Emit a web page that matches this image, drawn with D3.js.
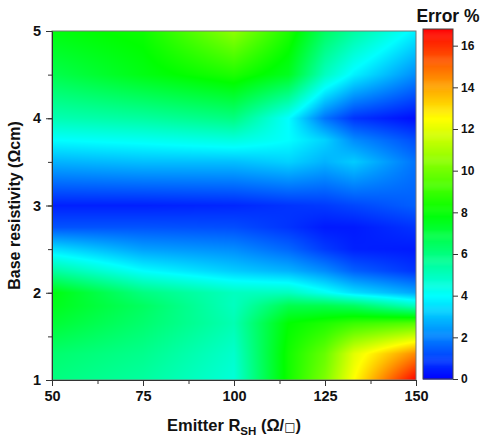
<!DOCTYPE html>
<html>
<head>
<meta charset="utf-8">
<script src="https://cdn.jsdelivr.net/npm/d3@7"></script>
<style>
  body { margin: 0; background: #fff; }
  text { font-family: "Liberation Sans", Arial, sans-serif; font-weight: bold; fill: #111; }
</style>
</head>
<body>
<div id="chart"></div>
<script>
// grid: columns = emitter sheet resistance, rows = base resistivity
var emitterRsh = [50, 75, 100, 115, 125, 133, 150];
var baseRes = [1, 1.3, 1.65, 1.85, 2, 2.25, 2.5, 2.75, 3, 3.5, 3.75, 4, 4.5, 5];
var errorPct = [
  [6.0, 5.5, 4.6, 8.3, 10.2, 12.5, 16.8],
  [6.3, 5.8, 4.8, 8.3, 9.8, 12.0, 14.5],
  [7.2, 6.3, 5.2, 8.0, 8.5, 9.0, 9.5],
  [7.6, 6.5, 5.0, 6.8, 6.8, 6.5, 5.0],
  [7.8, 6.0, 5.0, 5.0, 4.2, 3.5, 2.6],
  [5.5, 4.0, 3.2, 2.8, 2.2, 1.5, 0.8],
  [3.5, 2.5, 2.2, 1.6, 0.9, 0.5, 0.4],
  [1.3, 1.3, 1.2, 0.8, 0.4, 0.4, 0.8],
  [0.5, 0.5, 0.6, 0.8, 0.9, 1.1, 1.5],
  [2.8, 3.0, 3.0, 3.3, 2.8, 3.2, 1.8],
  [4.0, 4.2, 4.5, 4.0, 3.3, 2.2, 1.2],
  [5.2, 5.5, 6.0, 4.0, 1.8, 0.8, 0.2],
  [6.8, 7.7, 8.5, 7.5, 5.0, 3.8, 2.2],
  [7.8, 8.2, 10.5, 8.5, 6.5, 5.5, 3.8]
];
var xTicks = [50, 75, 100, 125, 150];
var yTicks = [1, 2, 3, 4, 5];
var cbTicks = [0, 2, 4, 6, 8, 10, 12, 14, 16];
var colorStops = [0, 4, 8, 12.5, 16.8];
var colorList = ['#0000ff', '#00ffff', '#00ff00', '#ffff00', '#ff0000'];

var W = 481, H = 439;
var margin = {top: 31, left: 52, right: 65, bottom: 59};
var width = W - margin.left - margin.right,
  height = H - margin.top - margin.bottom;

var svg = d3.select('#chart').append('svg')
  .attr('width', W)
  .attr('height', H);

var x = d3.scaleLinear().domain([50, 150]).range([0, width]);
var y = d3.scaleLinear().domain([1, 5]).range([height, 0]);
var color = d3.scaleLinear().domain(colorStops).range(colorList).clamp(true);

// bilinear lookup in the grid
function valueAt(xv, yv) {
  var i = Math.min(Math.max(d3.bisectRight(emitterRsh, xv) - 1, 0), emitterRsh.length - 2);
  var j = Math.min(Math.max(d3.bisectRight(baseRes, yv) - 1, 0), baseRes.length - 2);
  var tx = (xv - emitterRsh[i]) / (emitterRsh[i + 1] - emitterRsh[i]);
  var ty = (yv - baseRes[j]) / (baseRes[j + 1] - baseRes[j]);
  tx = Math.max(0, Math.min(1, tx));
  ty = Math.max(0, Math.min(1, ty));
  var a = errorPct[j][i], b = errorPct[j][i + 1],
    c = errorPct[j + 1][i], d = errorPct[j + 1][i + 1];
  return (a * (1 - tx) + b * tx) * (1 - ty) + (c * (1 - tx) + d * tx) * ty;
}

var cw = Math.round(width), ch = Math.round(height);
var canvas = document.createElement('canvas');
canvas.width = cw;
canvas.height = ch;
var ctx = canvas.getContext('2d');
var img = ctx.createImageData(cw, ch);
for (var py = 0; py < ch; py++) {
  var yv = y.invert(py + 0.5);
  for (var px = 0; px < cw; px++) {
    var c = d3.rgb(color(valueAt(x.invert(px + 0.5), yv)));
    var k = (py * cw + px) * 4;
    img.data[k] = c.r; img.data[k + 1] = c.g; img.data[k + 2] = c.b; img.data[k + 3] = 255;
  }
}
ctx.putImageData(img, 0, 0);

var g = svg.append('g').attr('transform', 'translate(' + margin.left + ',' + margin.top + ')');

g.append('image')
  .attr('width', width)
  .attr('height', height)
  .attr('preserveAspectRatio', 'none')
  .attr('href', canvas.toDataURL());

g.append('rect')
  .attr('width', width)
  .attr('height', height)
  .attr('fill', 'none')
  .attr('stroke', '#777')
  .attr('stroke-width', 1);

// minor ticks
g.append('g')
  .attr('transform', 'translate(0,' + height + ')')
  .call(d3.axisBottom(x).tickValues(d3.range(50, 151, 12.5)).tickSize(4).tickFormat(''))
  .call(function (s) { s.select('.domain').remove(); s.selectAll('line').attr('stroke', '#333'); });
g.append('g')
  .call(d3.axisLeft(y).tickValues(d3.range(1, 5.01, 0.5)).tickSize(4).tickFormat(''))
  .call(function (s) { s.select('.domain').remove(); s.selectAll('line').attr('stroke', '#333'); });

var xAxis = g.append('g')
  .attr('transform', 'translate(0,' + height + ')')
  .call(d3.axisBottom(x).tickValues(xTicks).tickSize(6).tickPadding(5).tickFormat(d3.format('d')));
var yAxis = g.append('g')
  .call(d3.axisLeft(y).tickValues(yTicks).tickSize(6).tickPadding(5).tickFormat(d3.format('d')));

[xAxis, yAxis].forEach(function (a) {
  a.select('.domain').attr('stroke', '#333');
  a.selectAll('line').attr('stroke', '#333');
  a.selectAll('text').style('font-size', '14.5px').style('font-family', '"Liberation Sans", Arial, sans-serif').style('font-weight', 'bold').attr('fill', '#111');
});

svg.append('text')
  .attr('transform', 'translate(20,' + (margin.top + height / 2) + ') rotate(-90)')
  .attr('text-anchor', 'middle')
  .style('font-size', '16px')
  .text('Base resistivity (\u03A9cm)');

var xl = svg.append('text')
  .attr('x', margin.left + width / 2)
  .attr('y', 431)
  .attr('text-anchor', 'middle')
  .style('font-size', '16.5px');
xl.append('tspan').text('Emitter R');
xl.append('tspan').attr('dy', 4).style('font-size', '11.5px').text('SH');
xl.append('tspan').attr('dy', -4).text(' (\u03A9/');
xl.append('tspan').style('font-weight', 'normal').style('font-size', '12px').style('font-family', '"DejaVu Sans", sans-serif').text('\u25A1');
xl.append('tspan').text(')');

// colour bar
var cbX = 423, cbW = 30, cbTop = 29, cbBottom = 379;
var cb = d3.scaleLinear().domain([0, 16.8]).range([cbBottom, cbTop]);
var cbSteps = d3.range(0, 16.8, 0.05);
svg.append('g').selectAll('rect')
  .data(cbSteps)
  .enter().append('rect')
  .attr('x', cbX)
  .attr('width', cbW)
  .attr('y', function (d) { return cb(Math.min(d + 0.05, 16.8)); })
  .attr('height', function (d) { return cb(d) - cb(Math.min(d + 0.05, 16.8)) + 0.5; })
  .attr('fill', function (d) { return color(d + 0.025); });
svg.append('rect')
  .attr('x', cbX).attr('y', cbTop)
  .attr('width', cbW).attr('height', cbBottom - cbTop)
  .attr('fill', 'none').attr('stroke', '#444');

var cbAxis = svg.append('g')
  .attr('transform', 'translate(' + (cbX + cbW) + ',0)')
  .call(d3.axisRight(cb).tickValues(cbTicks).tickSize(5).tickPadding(3));
cbAxis.select('.domain').remove();
cbAxis.selectAll('line').attr('stroke', '#333');
cbAxis.selectAll('text').style('font-size', '12px').style('font-family', '"Liberation Sans", Arial, sans-serif').style('font-weight', 'bold').attr('fill', '#111');

svg.append('text')
  .attr('x', 448)
  .attr('y', 22)
  .attr('text-anchor', 'middle')
  .style('font-size', '17.5px')
  .text('Error %');
</script>
</body>
</html>
